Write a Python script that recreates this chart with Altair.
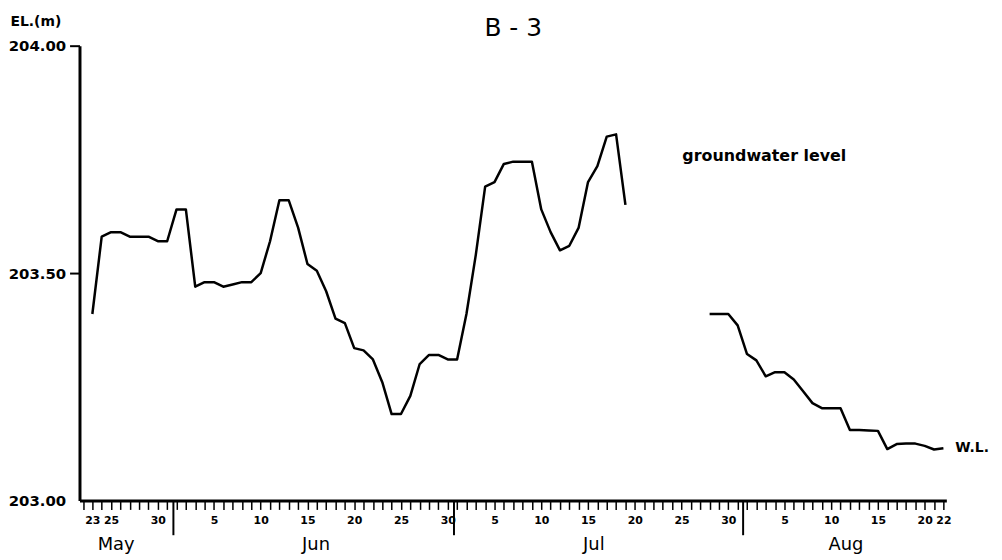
import altair as alt
import pandas as pd

# ---- data ----
seg1_start = "1985-05-23"
seg1_values = [203.41, 203.58, 203.59, 203.59, 203.58, 203.58, 203.58, 203.57, 203.57,
               203.64, 203.64, 203.47, 203.48, 203.48, 203.47, 203.475, 203.48, 203.48,
               203.50, 203.57, 203.66, 203.66, 203.60, 203.52, 203.505, 203.46, 203.40,
               203.39, 203.335, 203.33, 203.31, 203.26, 203.19, 203.19, 203.23, 203.30,
               203.32, 203.32, 203.31, 203.31, 203.41, 203.54, 203.69, 203.70, 203.74,
               203.745, 203.745, 203.745, 203.64, 203.59, 203.55, 203.56, 203.60, 203.70,
               203.735, 203.80, 203.805, 203.65]
seg2_start = "1985-07-28"
seg2_values = [203.41, 203.41, 203.41, 203.385, 203.322, 203.308, 203.273, 203.282, 203.282,
               203.266, 203.24, 203.214, 203.203, 203.203, 203.203, 203.155, 203.155, 203.154,
               203.153, 203.113, 203.124, 203.125, 203.125, 203.12, 203.112, 203.115]

label_days = {5: [23, 25, 30], 6: [5, 10, 15, 20, 25, 30], 7: [5, 10, 15, 20, 25, 30],
              8: [5, 10, 15, 20, 22]}
month_names = ["May", "Jun", "Jul", "Aug"]
month_label_dates = ["1985-05-25T13:00:00", "1985-06-15T22:00:00",
                     "1985-07-15T15:00:00", "1985-08-11T14:00:00"]
month_divider_dates = ["1985-05-31T16:00:00", "1985-06-30T16:00:00", "1985-07-31T14:00:00"]
y_ticks = [203.0, 203.5, 204.0]

chart_title = "B - 3"
series_label = "groundwater level"
end_label = "W.L."
y_title = "EL.(m)"

# ---- tables ----
d1 = pd.DataFrame({"date": pd.date_range(seg1_start, periods=len(seg1_values), freq="D"),
                   "value": seg1_values, "seg": "a"})
d2 = pd.DataFrame({"date": pd.date_range(seg2_start, periods=len(seg2_values), freq="D"),
                   "value": seg2_values, "seg": "b"})
line_df = pd.concat([d1, d2], ignore_index=True)
line_df["date"] = line_df["date"].dt.strftime("%Y-%m-%dT%H:%M:%S")

months_df = pd.DataFrame({"date": month_label_dates, "name": month_names})
div_df = pd.DataFrame({"date": month_divider_dates})
title_df = pd.DataFrame({"date": ["1985-07-07T00:00:00"], "value": [204.039], "t": [chart_title]})
series_df = pd.DataFrame({"date": ["1985-07-25T02:00:00"], "value": [203.758], "t": [series_label]})
end_df = pd.DataFrame({"date": [d2["date"].iloc[-1].strftime("%Y-%m-%dT%H:%M:%S")],
                       "value": [seg2_values[-1]], "t": [end_label]})

cond = " || ".join(
    f"(month(datum.value)=={m - 1} && indexof({days}, date(datum.value))>=0)"
    for m, days in label_days.items())
label_expr = f"({cond}) ? '' + date(datum.value) : ''"

FONT = "DejaVu Sans"

x_scale = alt.Scale(domain=[alt.DateTime(year=1985, month=5, date=21, hours=15),
                            alt.DateTime(year=1985, month=8, date=22, hours=7, minutes=30)],
                    nice=False)
y_scale = alt.Scale(domain=[203.0, 204.0], nice=False, zero=False)

x_enc = alt.X("date:T", scale=x_scale,
              axis=alt.Axis(title=None, tickCount=alt.TimeIntervalStep(interval="day", step=1),
                            labelExpr=label_expr, labelOverlap=False, labelFlush=False,
                            labelBound=False, labelFontSize=11, labelFontWeight="bold",
                            labelFont=FONT, labelPadding=5, tickSize=9, tickWidth=1.5,
                            tickColor="black", domainColor="black", domainWidth=3,
                            labelColor="black", grid=False))
y_enc = alt.Y("value:Q", scale=y_scale,
              axis=alt.Axis(values=y_ticks, format=".2f", labelFontSize=15, labelFont=FONT,
                            labelFontWeight="bold",
                            labelColor="black", tickSize=10, tickWidth=2,
                            tickColor={"condition": {"test": "datum.value <= 203",
                                                     "value": "transparent"},
                                       "value": "black"},
                            labelPadding=4, domainWidth=3, domainColor="black", grid=False,
                            title=y_title, titleAngle=0, titleAlign="left",
                            titleBaseline="middle", titleX=-70, titleY=-24,
                            titleFontSize=14, titleFontWeight="bold", titleFont=FONT,
                            titleColor="black"))

line = alt.Chart(line_df).mark_line(color="black", strokeWidth=2.5, strokeJoin="round").encode(
    x=x_enc, y=y_enc, detail="seg:N")

dividers = alt.Chart(div_df).mark_rule(color="black", strokeWidth=2).encode(
    x="date:T", y=alt.value(458), y2=alt.value(493))

months = alt.Chart(months_df).mark_text(fontSize=18, font=FONT, color="black",
                                         baseline="middle").encode(
    x="date:T", y=alt.value(503), text="name:N")

title_t = alt.Chart(title_df).mark_text(fontSize=25, font=FONT, color="black",
                                         baseline="middle").encode(
    x="date:T", y="value:Q", text="t:N")

series_t = alt.Chart(series_df).mark_text(fontSize=16, font=FONT, fontWeight="bold",
                                           color="black", align="left",
                                           baseline="middle").encode(
    x="date:T", y="value:Q", text="t:N")

end_t = alt.Chart(end_df).mark_text(fontSize=14, font=FONT, fontWeight="bold", color="black",
                                     align="left", baseline="middle", dx=12).encode(
    x="date:T", y="value:Q", text="t:N")

chart = alt.layer(line, dividers, months, title_t, series_t, end_t).properties(
    width=873, height=458,
    autosize=alt.AutoSizeParams(type="none"),
    padding={"left": 72, "top": 36, "right": 48, "bottom": 56},
).configure(background="white").configure_view(stroke=None)

chart.save("out.html", embed_options={"renderer": "svg", "actions": False})
